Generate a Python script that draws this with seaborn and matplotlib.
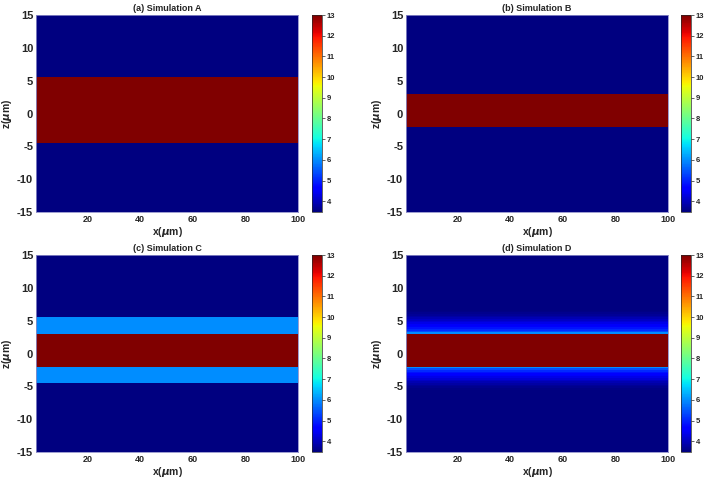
import numpy as np
import pandas as pd
import matplotlib
matplotlib.use("Agg")
import matplotlib.pyplot as plt
import seaborn as sns

# ---------------- data ----------------
titles = ["(a) Simulation A", "(b) Simulation B", "(c) Simulation C", "(d) Simulation D"]
z_range = [-15.0, 15.0]          # µm
x_range = [0.5, 100.0]           # µm
dz = 0.25                        # µm, vertical sampling
background_index = 3.48
core_index = 13.0

# core layer [bottom, top] in µm for each simulation
A_core = [-4.5, 5.5]
B_core = [-2.0, 3.0]
C_core = [-2.0, 3.0]
D_core = [-2.0, 3.0]

# Simulation C: uniform cladding around the core
C_clad = [-4.5, 5.5]
C_clad_index = 6.0

# Simulation D: graded tail outside the core, one value per 0.25 µm step away from the edge
D_tail_index = [6.0, 5.4, 5.05, 4.85, 4.65, 4.5, 4.35, 4.2, 4.05, 3.9, 3.78, 3.68, 3.6, 3.54, 3.5, 3.48]

x_ticks = [20, 40, 60, 80, 100]
z_ticks = [15, 10, 5, 0, -5, -10, -15]
cbar_ticks = [4, 5, 6, 7, 8, 9, 10, 11, 12, 13]
vmin, vmax = 3.48, 13.0


def profile(core, clad=None, clad_val=None, tail=None):
    n = int(round((z_range[1] - z_range[0]) / dz))
    zc = z_range[1] - dz * (np.arange(n) + 0.5)   # row centres, top row first
    vals = np.full(n, background_index)
    if clad is not None:
        vals[(zc >= clad[0]) & (zc <= clad[1])] = clad_val
    if tail is not None:
        for i, z in enumerate(zc):
            if z > core[1]:
                d = z - core[1]
            elif z < core[0]:
                d = core[0] - z
            else:
                continue
            k = int(round((d - dz / 2) / dz))
            if k < len(tail):
                vals[i] = tail[k]
    vals[(zc >= core[0]) & (zc <= core[1])] = core_index
    return pd.DataFrame({"x": vals}, index=np.round(zc, 3))


frames = [
    profile(A_core),
    profile(B_core),
    profile(C_core, C_clad, C_clad_index),
    profile(D_core, tail=D_tail_index),
]

# ---------------- styling ----------------
sns.set_style("white")
plt.rcParams["font.family"] = ["Liberation Sans", "DejaVu Sans"]
plt.rcParams["font.weight"] = "bold"
plt.rcParams["axes.labelweight"] = "bold"
plt.rcParams["mathtext.fontset"] = "dejavusans"

W, H = 708, 488
fig = plt.figure(figsize=(W / 100, H / 100), dpi=100)


def box(x0, y0, x1, y1):
    return [x0 / W, 1 - y1 / H, (x1 - x0) / W, (y1 - y0) / H]


ax_boxes = [(36, 15, 298, 212), (406, 15, 668, 212), (36, 255, 298, 452), (406, 255, 668, 452)]
cb_boxes = [(312, 15, 322, 212), (681, 15, 691, 212), (312, 255, 322, 452), (681, 255, 691, 452)]

for title, df, ab, cb in zip(titles, frames, ax_boxes, cb_boxes):
    ax = fig.add_axes(box(*ab))
    cax = fig.add_axes(box(*cb))
    sns.heatmap(df, ax=ax, cbar_ax=cax, cmap="jet", vmin=vmin, vmax=vmax,
                xticklabels=False, yticklabels=False, linewidths=0, rasterized=True)
    nrows, ncols = df.shape
    ax.set_yticks([(z_range[1] - z) / dz for z in z_ticks])
    ax.set_yticklabels([str(z) for z in z_ticks], fontsize=8, fontweight="bold", rotation=0)
    ax.set_xticks([(x - x_range[0]) / (x_range[1] - x_range[0]) * ncols for x in x_ticks])
    ax.set_xticklabels([str(x) for x in x_ticks], fontsize=6.5, fontweight="bold")
    ax.tick_params(length=0, pad=2)
    ax.set_xlabel(r"x($\mu$m)", fontsize=7.5, fontweight="bold", labelpad=1)
    ax.set_ylabel(r"z($\mu$m)", fontsize=7.5, fontweight="bold", labelpad=2)
    ax.set_title(title, fontsize=6.5, fontweight="bold", pad=3)
    for s in ax.spines.values():
        s.set_visible(True)
        s.set_linewidth(0.6)
        s.set_color("#8c8cc8")
    cax.set_yticks(cbar_ticks)
    cax.set_yticklabels([str(t) for t in cbar_ticks], fontsize=5.5, fontweight="bold")
    cax.tick_params(length=2, width=0.5, pad=1.5)
    cbar = ax.collections[0].colorbar
    cbar.outline.set_linewidth(0.5)

fig.savefig("out.png", dpi=100)
